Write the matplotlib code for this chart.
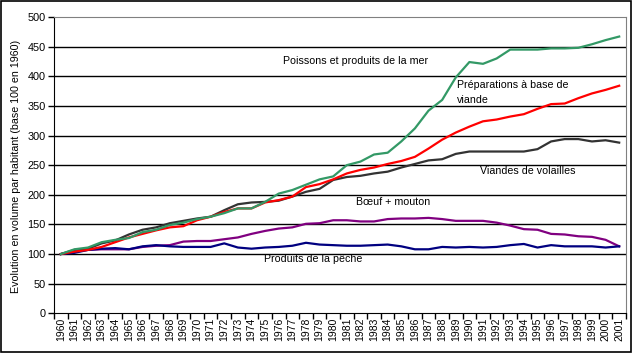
import matplotlib.pyplot as plt
from matplotlib.patches import Rectangle

plt.rcParams['font.family'] = ['Liberation Sans', 'DejaVu Sans']

# Data (base 100 in 1960)
years = [str(y) for y in range(1960, 2002)]

poissons = [100, 108, 111, 120, 124, 127, 137, 141, 149, 153, 159, 163, 169, 177,
            177, 188, 202, 208, 217, 226, 231, 250, 256, 268, 271, 290, 312, 342,
            360, 398, 424, 421, 430, 445, 445, 445, 447, 447, 448, 454, 461, 467]
preparations = [100, 104, 107, 112, 120, 128, 134, 140, 145, 147, 157, 163, 171, 177,
                177, 187, 191, 197, 213, 218, 226, 236, 242, 246, 252, 257, 264, 278,
                293, 305, 315, 324, 327, 332, 336, 345, 353, 354, 363, 371, 377, 384]
volailles = [100, 107, 109, 118, 123, 133, 141, 145, 152, 156, 160, 163, 174, 184,
             187, 188, 190, 197, 205, 210, 225, 230, 232, 236, 239, 246, 252, 258,
             260, 269, 273, 273, 273, 273, 273, 277, 290, 294, 294, 290, 292, 288]
boeuf = [100, 105, 107, 108, 108, 108, 112, 114, 115, 121, 122, 122, 125, 128,
         134, 139, 143, 145, 151, 152, 157, 157, 155, 155, 159, 160, 160, 161,
         159, 156, 156, 156, 153, 148, 142, 141, 134, 133, 130, 129, 124, 113]
peche = [100, 102, 107, 109, 110, 108, 113, 115, 113, 112, 112, 112, 118, 111,
         109, 111, 112, 114, 119, 116, 115, 114, 114, 115, 116, 113, 108, 108,
         112, 111, 112, 111, 112, 115, 117, 111, 115, 113, 113, 113, 111, 113]

fig = plt.figure(figsize=(6.32, 3.53), dpi=100)
ax = fig.add_axes([54 / 632, 1 - 313.3 / 353, 572 / 632, 296.3 / 353])

x = list(range(len(years)))
ax.plot(x, boeuf, color='#800080', lw=1.6, zorder=3)
ax.plot(x, peche, color='#000080', lw=1.6, zorder=3)
ax.plot(x, volailles, color='#333333', lw=1.6, zorder=3)
ax.plot(x, preparations, color='#ff0000', lw=1.6, zorder=3)
ax.plot(x, poissons, color='#339966', lw=1.6, zorder=3)

ax.set_xlim(-0.5, len(years) - 0.5)
ax.set_ylim(0, 500)
ax.set_yticks(range(0, 501, 50))
# horizontal gridlines (the 500 line is the grey plot-area border)
for g in range(50, 500, 50):
    ax.axhline(g, color='black', lw=1, zorder=1)

# category labels centred between tick marks
ax.set_xticks([i - 0.5 for i in range(len(years) + 1)])
ax.set_xticklabels([])
ax.set_xticks(x, minor=True)
ax.set_xticklabels(years, minor=True, rotation=90, fontsize=7.5)
ax.tick_params(axis='x', which='minor', length=0, pad=3)
ax.tick_params(axis='x', which='major', length=4, width=1, color='black')
ax.tick_params(axis='y', length=4, width=1, labelsize=7.8, pad=2)

ax.spines['left'].set_color('black')
ax.spines['bottom'].set_color('black')
ax.spines['top'].set_color('#808080')
ax.spines['right'].set_color('#808080')

fig.text(16 / 632, 1 - 166 / 353, 'Evolution en volume par habitant (base 100 en 1960)',
         rotation=90, ha='center', va='center', fontsize=7.7)

fs = 7.7
ax.text(16.3, 426, 'Poissons et produits de la mer', fontsize=fs, va='center')
ax.text(29.1, 373, 'Préparations à base de\nviande', fontsize=fs, va='center',
        linespacing=1.6)
ax.text(30.8, 240, 'Viandes de volailles', fontsize=fs, va='center')
ax.text(21.7, 187, 'Bœuf + mouton', fontsize=fs, va='center')
ax.text(14.9, 91, 'Produits de la pêche', fontsize=fs, va='center')

fig.patches.append(Rectangle((0.001, 0.002), 0.997, 0.996, transform=fig.transFigure,
                             fill=False, edgecolor='black', lw=1.2))

fig.savefig('out.png', dpi=100)
